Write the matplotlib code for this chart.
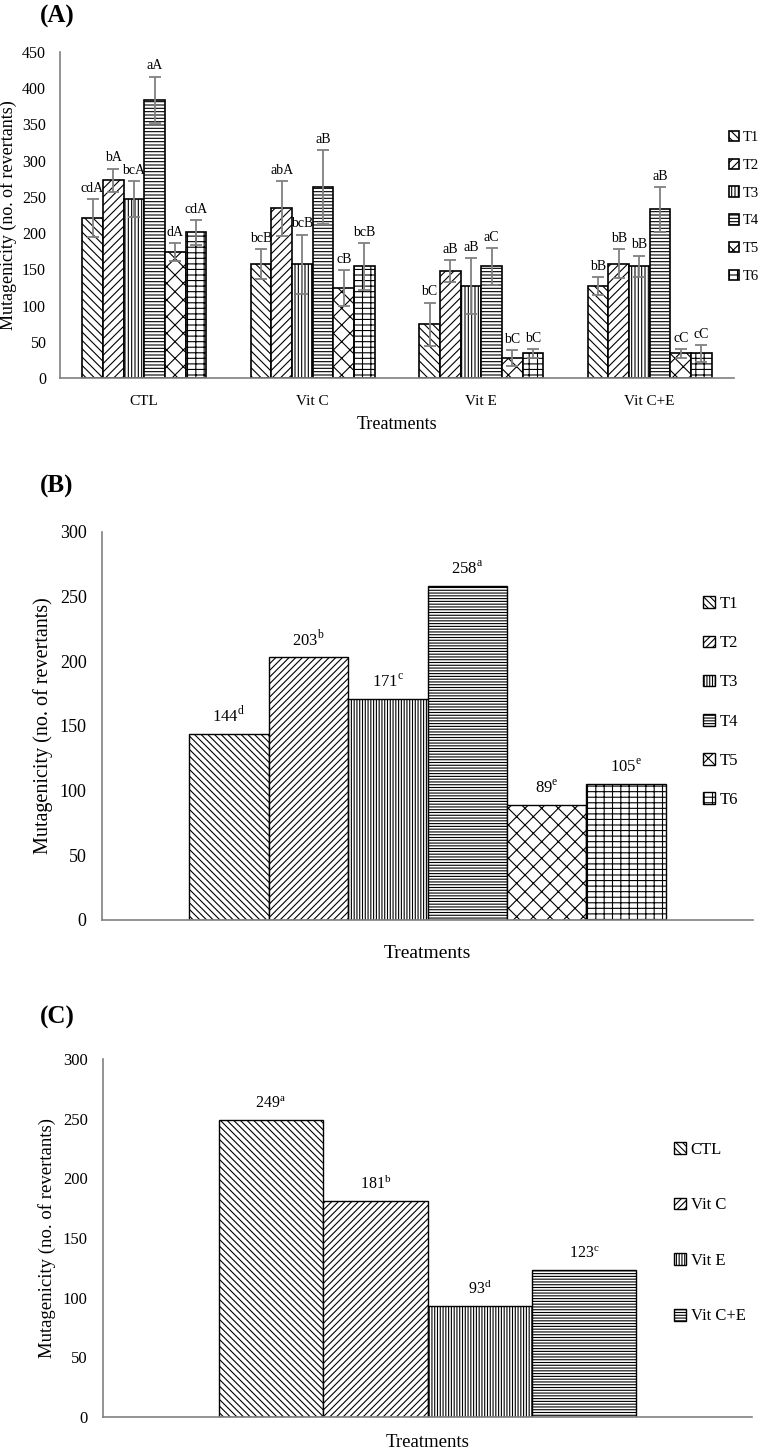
import numpy as np
import matplotlib
matplotlib.use("Agg")
import matplotlib.pyplot as plt

plt.rcParams['font.family'] = ['Liberation Serif', 'DejaVu Serif']
plt.rcParams['mathtext.fontset'] = 'custom'
plt.rcParams['mathtext.rm'] = 'Liberation Serif'
plt.rcParams['hatch.linewidth'] = 0.8
plt.rcParams['hatch.color'] = 'black'

# ---- data, panel A (treatment x series)
groups = ['CTL', 'Vit C', 'Vit E', 'Vit C+E']
series = ['T1', 'T2', 'T3', 'T4', 'T5', 'T6']
t1 = [221, 157, 74, 127]
t2 = [273, 234, 148, 158]
t3 = [247, 157, 127, 154]
t4 = [384, 264, 154, 233]
t5 = [174, 124, 27, 34]
t6 = [201, 154, 34, 34]
t1_err = [26, 21, 30, 12]
t2_err = [16, 38, 15, 20]
t3_err = [25, 41, 38, 15]
t4_err = [32, 51, 25, 31]
t5_err = [12, 25, 11, 6]
t6_err = [17, 32, 6, 12]
t1_let = ['cdA', 'bcB', 'bC', 'bB']
t2_let = ['bA', 'abA', 'aB', 'bB']
t3_let = ['bcA', 'bcB', 'aB', 'bB']
t4_let = ['aA', 'aB', 'aC', 'aB']
t5_let = ['dA', 'cB', 'bC', 'cC']
t6_let = ['cdA', 'bcB', 'bC', 'cC']

# ---- panel B (means per series)
b_vals = [144, 203, 171, 258, 89, 105]
b_let = ['d', 'b', 'c', 'a', 'e', 'e']

# ---- panel C (means per treatment)
c_vals = [249, 181, 93, 123]
c_let = ['a', 'b', 'd', 'c']

hatch_a = ['\\\\\\\\', '////', '|||||', '-----', 'xx', '---||']
hatch_b = ['\\\\\\\\\\', '/////', '||||||', '------', 'xx', '---||']
axis_col = '#808080'
err_col = '#808080'

W, H = 762, 1454
fig = plt.figure(figsize=(W / 100, H / 100), dpi=100)


def rect(left, top, right, bottom):
    return [left / W, 1 - bottom / H, (right - left) / W, (bottom - top) / H]


def style(ax):
    for s in ['top', 'right']:
        ax.spines[s].set_visible(False)
    for s in ['left', 'bottom']:
        ax.spines[s].set_color(axis_col)
        ax.spines[s].set_linewidth(1.2)
    ax.tick_params(length=0)


# ================= (A)
axA = fig.add_axes(rect(60, 52, 734, 378))
style(axA)
x = np.arange(len(groups))
w = 0.1228
vals = [t1, t2, t3, t4, t5, t6]
errs = [t1_err, t2_err, t3_err, t4_err, t5_err, t6_err]
lets = [t1_let, t2_let, t3_let, t4_let, t5_let, t6_let]
for j in range(6):
    xs = x + (j - 2.5) * w
    axA.bar(xs, vals[j], w, color='white', edgecolor='black', linewidth=1.2,
            hatch=hatch_a[j], label=series[j], zorder=2)
    axA.errorbar(xs, vals[j], yerr=errs[j], fmt='none', ecolor=err_col,
                 elinewidth=1.3, capsize=4, capthick=1.3, zorder=3)
    for k in range(len(groups)):
        axA.annotate(lets[j][k], (xs[k], vals[j][k] + errs[j][k]),
                     xytext=(0, 3), textcoords='offset points',
                     ha='center', va='bottom', fontsize=10)
axA.set_xlim(-0.5, 3.5)
axA.set_ylim(0, 450)
axA.set_yticks(range(0, 451, 50))
axA.set_xticks(x)
axA.set_xticklabels(groups)
axA.tick_params(axis='x', labelsize=11, pad=12)
axA.tick_params(axis='y', labelsize=11.5, pad=10)
axA.set_xlabel('Treatments', fontsize=13, labelpad=6)
axA.set_ylabel('Mutagenicity (no. of revertants)', fontsize=13, labelpad=4)
axA.legend(loc='center left', bbox_to_anchor=(729 / W, 1 - 207 / H),
           bbox_transform=fig.transFigure, frameon=False, fontsize=10.5,
           handlelength=0.7, handleheight=0.7, handletextpad=0.25,
           labelspacing=1.0, borderpad=0, borderaxespad=0)
fig.text(40 / W, 1 - 16 / H, '(A)', fontsize=18, fontweight='bold', va='center')

# ================= (B)
axB = fig.add_axes(rect(102, 532, 753, 920))
style(axB)
wb = 0.1221
for j in range(6):
    xb = (j - 2.5) * wb
    axB.bar(xb, b_vals[j], wb, color='white', edgecolor='black', linewidth=1.0,
            hatch=hatch_b[j], label=series[j], zorder=2)
    axB.annotate(str(b_vals[j]) + r'$^{\rm ' + b_let[j] + '}$', (xb, b_vals[j]),
                 xytext=(0, 6), textcoords='offset points',
                 ha='center', va='bottom', fontsize=12)
axB.set_xlim(-0.5, 0.5)
axB.set_ylim(0, 300)
axB.set_yticks(range(0, 301, 50))
axB.set_xticks([])
axB.tick_params(axis='y', labelsize=13, pad=11)
axB.set_xlabel('Treatments', fontsize=14, labelpad=18)
axB.set_ylabel('Mutagenicity (no. of revertants)', fontsize=14.5, labelpad=5)
axB.legend(loc='center left', bbox_to_anchor=(703 / W, 1 - 702 / H),
           bbox_transform=fig.transFigure, frameon=False, fontsize=12,
           handlelength=0.7, handleheight=0.7, handletextpad=0.3,
           labelspacing=1.39, borderpad=0, borderaxespad=0)
fig.text(40 / W, 1 - 486 / H, '(B)', fontsize=18, fontweight='bold', va='center')

# ================= (C)
axC = fig.add_axes(rect(103, 1059, 752, 1417))
style(axC)
wc = 0.161
for j in range(4):
    xc = (j - 1.5) * wc
    axC.bar(xc, c_vals[j], wc, color='white', edgecolor='black', linewidth=1.0,
            hatch=hatch_b[j], label=groups[j], zorder=2)
    axC.annotate(str(c_vals[j]) + r'$^{\rm ' + c_let[j] + '}$', (xc, c_vals[j]),
                 xytext=(0, 6), textcoords='offset points',
                 ha='center', va='bottom', fontsize=11.5)
axC.set_xlim(-0.5, 0.5)
axC.set_ylim(0, 300)
axC.set_yticks(range(0, 301, 50))
axC.set_xticks([])
axC.tick_params(axis='y', labelsize=12, pad=11)
axC.set_xlabel('Treatments', fontsize=13.5, labelpad=12)
axC.set_ylabel('Mutagenicity (no. of revertants)', fontsize=13.5, labelpad=5)
axC.legend(loc='center left', bbox_to_anchor=(674 / W, 1 - 1233 / H),
           bbox_transform=fig.transFigure, frameon=False, fontsize=12,
           handlelength=0.7, handleheight=0.7, handletextpad=0.3,
           labelspacing=2.38, borderpad=0, borderaxespad=0)
fig.text(40 / W, 1 - 1017 / H, '(C)', fontsize=18, fontweight='bold', va='center')

fig.savefig('out.png', dpi=100)
